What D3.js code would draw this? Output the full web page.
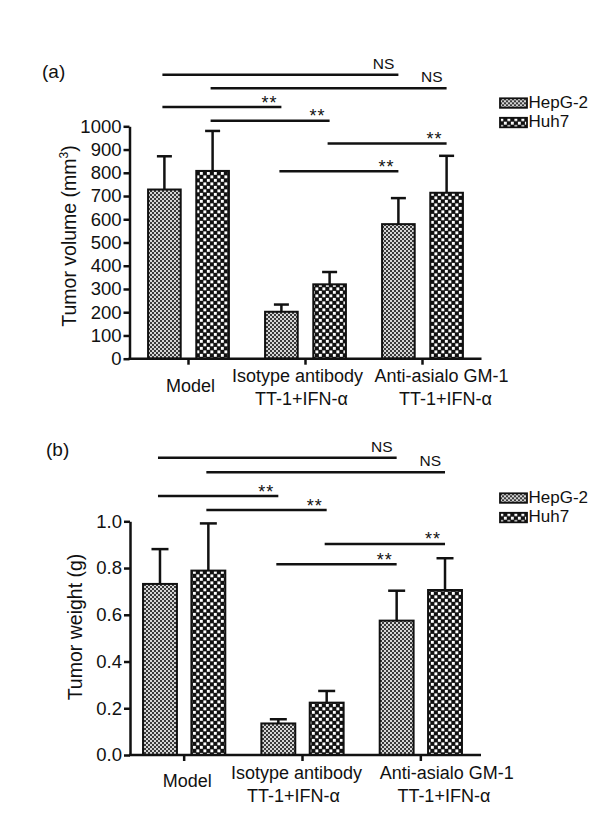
<!DOCTYPE html>
<html>
<head>
<meta charset="utf-8">
<script src="https://cdn.jsdelivr.net/npm/d3@7"></script>
<style>
    body { margin: 0; background: #fff; }
    text { font-family: "Liberation Sans", Arial, sans-serif; fill: #111; }
</style>
</head>
<body>
<div id="chart"></div>
<script>
const categories = [["Model"], ["Isotype antibody", "TT-1+IFN-α"], ["Anti-asialo GM-1", "TT-1+IFN-α"]];
const series = ["HepG-2", "Huh7"];

const volumeHepG2 = [728, 202, 579];
const volumeHuh7 = [808, 320, 714];
const volumeErrHepG2 = [143, 31, 112];
const volumeErrHuh7 = [172, 53, 159];
const volumeTicks = [0, 100, 200, 300, 400, 500, 600, 700, 800, 900, 1000];

const weightHepG2 = [0.732, 0.135, 0.575];
const weightHuh7 = [0.789, 0.224, 0.706];
const weightErrHepG2 = [0.149, 0.018, 0.128];
const weightErrHuh7 = [0.202, 0.05, 0.136];
const weightTicks = [0, 0.2, 0.4, 0.6, 0.8, 1.0];

// [group, series] -> [group, series], label
const comparisons = [
    [0, 0, 2, 0, "NS"],
    [0, 1, 2, 1, "NS"],
    [0, 0, 1, 0, "**"],
    [0, 1, 1, 1, "**"],
    [1, 1, 2, 1, "**"],
    [1, 0, 2, 0, "**"]
];
// height of each comparison line, in axis units
const volumeLevels = [1222, 1164, 1083, 1024, 926, 807];
const weightLevels = [1.272, 1.21, 1.108, 1.048, 0.903, 0.816];

const w = 616, h = 828;

const svg = d3.select("#chart")
    .append("svg")
    .attr("width", w)
    .attr("height", h);

svg.append("rect").attr("width", w).attr("height", h).attr("fill", "#fff");

// fill patterns
let defs = svg.append("defs");

let fine = defs.append("pattern")
    .attr("id", "pat-HepG-2")
    .attr("patternUnits", "userSpaceOnUse")
    .attr("width", 4).attr("height", 4);
fine.append("rect").attr("width", 4).attr("height", 4).attr("fill", "#d6d6d6");
fine.append("rect").attr("width", 2).attr("height", 2).attr("fill", "#3a3a3a");
fine.append("rect").attr("x", 2).attr("y", 2).attr("width", 2).attr("height", 2).attr("fill", "#3a3a3a");

let coarse = defs.append("pattern")
    .attr("id", "pat-Huh7")
    .attr("patternUnits", "userSpaceOnUse")
    .attr("width", 7).attr("height", 7);
coarse.append("rect").attr("width", 7).attr("height", 7).attr("fill", "#111");
coarse.append("rect").attr("x", 0.4).attr("y", 0.4).attr("width", 2.9).attr("height", 2.9).attr("fill", "#fff");
coarse.append("rect").attr("x", 3.9).attr("y", 3.9).attr("width", 2.9).attr("height", 2.9).attr("fill", "#fff");


function drawPanel(p) {
    let g = svg.append("g");

    let y = d3.scaleLinear().domain([0, p.max]).range(p.yRange);

    let x0 = d3.scaleBand()
        .domain(d3.range(categories.length))
        .range(p.bandRange);

    let x1 = d3.scaleBand()
        .domain(series)
        .range([0, x0.bandwidth()])
        .paddingInner(p.barPadInner)
        .paddingOuter(p.barPadOuter);

    function barCenter(gi, s) {
        return x0(gi) + x1(series[s]) + x1.bandwidth() / 2;
    }

    let rows = [];
    series.forEach(function (s, si) {
        p.values[si].forEach(function (v, gi) {
            rows.push({group: gi, serie: s, value: v, err: p.errors[si][gi]});
        });
    });

    // error bars (drawn first, bars on top)
    let eb = g.append("g")
        .attr("stroke", "#111")
        .attr("stroke-width", 2.5)
        .selectAll("g")
        .data(rows)
        .enter().append("g");

    eb.append("line")
        .attr("x1", function (d) { return x0(d.group) + x1(d.serie) + x1.bandwidth() / 2; })
        .attr("x2", function (d) { return x0(d.group) + x1(d.serie) + x1.bandwidth() / 2; })
        .attr("y1", function (d) { return y(d.value); })
        .attr("y2", function (d) { return y(d.value + d.err); });

    eb.append("line")
        .attr("x1", function (d) { return x0(d.group) + x1(d.serie) + x1.bandwidth() / 2 - p.cap / 2; })
        .attr("x2", function (d) { return x0(d.group) + x1(d.serie) + x1.bandwidth() / 2 + p.cap / 2; })
        .attr("y1", function (d) { return y(d.value + d.err); })
        .attr("y2", function (d) { return y(d.value + d.err); });

    g.append("g")
        .selectAll("rect")
        .data(rows)
        .enter().append("rect")
        .attr("x", function (d) { return x0(d.group) + x1(d.serie); })
        .attr("y", function (d) { return y(d.value); })
        .attr("width", x1.bandwidth())
        .attr("height", function (d) { return y(0) - y(d.value); })
        .attr("fill", function (d) { return "url(#pat-" + d.serie + ")"; })
        .attr("stroke", "#111")
        .attr("stroke-width", 2);

    // y axis
    let yAxis = g.append("g")
        .attr("transform", "translate(" + p.axisX + ",0)")
        .call(d3.axisLeft(y)
            .tickValues(p.ticks)
            .tickFormat(p.format)
            .tickSize(6)
            .tickSizeOuter(0)
            .tickPadding(2));
    yAxis.selectAll("path, line").attr("stroke", "#111").attr("stroke-width", 2.5);
    yAxis.selectAll("text")
        .style("font-size", "18.5px")
        .style("font-family", '"Liberation Sans", Arial, sans-serif')
        .attr("fill", "#111");

    // x axis
    let xAxis = g.append("g")
        .attr("transform", "translate(0," + y(0) + ")")
        .call(d3.axisBottom(x0).tickSize(6).tickSizeOuter(0).tickFormat(""));
    xAxis.select(".domain").remove();
    xAxis.selectAll("line").attr("stroke", "#111").attr("stroke-width", 2.5);
    xAxis.append("line")
        .attr("x1", p.axisX - 1)
        .attr("x2", p.axisRight)
        .attr("stroke", "#111")
        .attr("stroke-width", 2.5);

    // category labels
    let lab = g.append("g")
        .selectAll("text")
        .data(categories)
        .enter().append("text")
        .attr("text-anchor", "middle")
        .style("font-size", "18px")
        .attr("transform", function (d, i) {
            let off = d.length === 1 ? p.singleDy : 0;
            return "translate(" + (x0(i) + x0.bandwidth() / 2 + p.labelShift[i]) + "," + (p.labelY + off) + ")";
        });
    lab.selectAll("tspan")
        .data(function (d) { return d; })
        .enter().append("tspan")
        .attr("x", function (d, i) { return i * p.line2Shift; })
        .attr("dy", function (d, i) { return i === 0 ? 0 : 23.3; })
        .text(function (d) { return d; });

    // axis title
    let title = g.append("text")
        .attr("transform", "translate(" + p.titleX + "," + p.titleY + ")rotate(-90)")
        .attr("text-anchor", "middle")
        .style("font-size", "19.5px");
    title.append("tspan").text(p.title);
    if (p.sup) {
        title.append("tspan").attr("dy", -8).style("font-size", "12px").text(p.sup);
        title.append("tspan").attr("dy", 8).text(")");
    }

    // panel tag
    g.append("text")
        .attr("x", p.tagX)
        .attr("y", p.tagY)
        .style("font-size", "19px")
        .text(p.tag);

    // comparison lines
    let cmp = g.append("g")
        .selectAll("g")
        .data(comparisons)
        .enter().append("g");

    cmp.append("line")
        .attr("x1", function (d) { return barCenter(d[0], d[1]) - 2; })
        .attr("x2", function (d) { return barCenter(d[2], d[3]); })
        .attr("y1", function (d, i) { return y(p.levels[i]); })
        .attr("y2", function (d, i) { return y(p.levels[i]); })
        .attr("stroke", "#111")
        .attr("stroke-width", 2.5);

    cmp.append("text")
        .attr("x", function (d) { return barCenter(d[2], d[3]) - 4; })
        .attr("y", function (d, i) { return y(p.levels[i]) + (d[4] === "NS" ? -6 : 1.5); })
        .attr("text-anchor", "end")
        .style("font-size", function (d) { return d[4] === "NS" ? "15.5px" : "18px"; })
        .style("letter-spacing", function (d) { return d[4] === "NS" ? "0px" : "1px"; })
        .text(function (d) { return d[4]; });

    // legend
    let leg = g.append("g")
        .selectAll("g")
        .data(series)
        .enter().append("g")
        .attr("transform", function (d, i) {
            return "translate(500," + (y(p.max) - 28 + i * 19.5) + ")";
        });
    leg.append("rect")
        .attr("width", 27)
        .attr("height", 9.5)
        .attr("fill", function (d) { return "url(#pat-" + d + ")"; })
        .attr("stroke", "#111")
        .attr("stroke-width", 1.8);
    leg.append("text")
        .attr("x", 28.5)
        .attr("y", 9.5)
        .style("font-size", "17px")
        .text(function (d) { return d; });
}

drawPanel({
    tag: "(a)", tagX: 42, tagY: 78,
    title: "Tumor volume (mm", sup: "3",
    titleX: 76, titleY: 236,
    max: 1000, yRange: [358.7, 126.3],
    ticks: volumeTicks, format: d3.format("d"),
    values: [volumeHepG2, volumeHuh7],
    errors: [volumeErrHepG2, volumeErrHuh7],
    levels: volumeLevels,
    axisX: 129.5, axisRight: 481.5,
    bandRange: [130, 481],
    barPadInner: 0.323, barPadOuter: 0.375,
    cap: 15,
    labelY: 381.7, singleDy: 10, labelShift: [2, -8, 19], line2Shift: 4
});

drawPanel({
    tag: "(b)", tagX: 46, tagY: 456,
    title: "Tumor weight (g)", sup: null,
    titleX: 82, titleY: 627,
    max: 1.0, yRange: [755, 521.3],
    ticks: weightTicks, format: d3.format(".1f"),
    values: [weightHepG2, weightHuh7],
    errors: [weightErrHepG2, weightErrHuh7],
    levels: weightLevels,
    axisX: 130, axisRight: 481,
    bandRange: [125, 480],
    barPadInner: 0.299, barPadOuter: 0.373,
    cap: 17,
    labelY: 779, singleDy: 8, labelShift: [3, -6, 26], line2Shift: -3
});
</script>
</body>
</html>
